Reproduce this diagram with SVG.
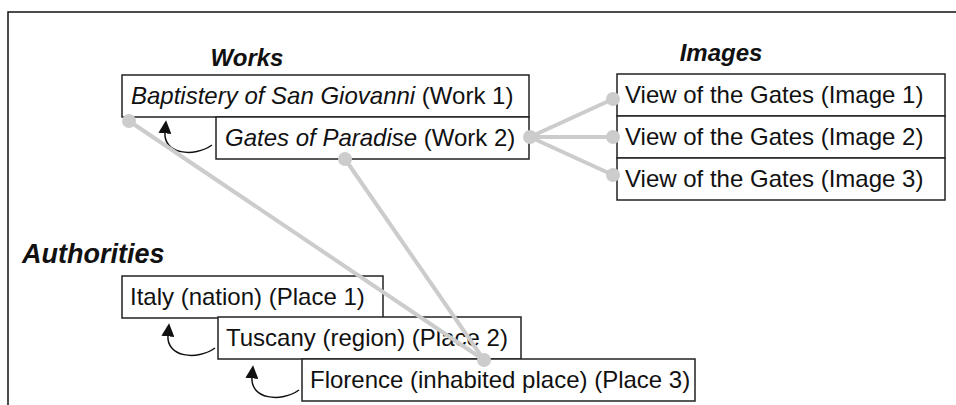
<svg xmlns="http://www.w3.org/2000/svg" width="956" height="405" viewBox="0 0 956 405">
<style>
.box{fill:#fff;stroke:#222;stroke-width:1.5}
.t{font-family:"Liberation Sans",Arial,sans-serif;font-size:24px;fill:#111}
.i{font-style:italic}
.h{font-family:"Liberation Sans",Arial,sans-serif;font-size:24px;font-weight:bold;font-style:italic;fill:#111}
.con{stroke:#ccc;stroke-width:4;stroke-linecap:round;fill:none}
.dot{fill:#ccc}
.arr{fill:none;stroke:#111;stroke-width:1.5}
</style>
<defs>
<marker id="ah" viewBox="0 0 10 10" refX="1" refY="5" markerWidth="13" markerHeight="13" markerUnits="userSpaceOnUse" orient="auto">
<path d="M0,0 L10,5 L0,10 z" fill="#111"/>
</marker>
<path id="hook" d="M212,145 C194,158 163,154 165,132" class="arr" marker-end="url(#ah)"/>
</defs>
<rect width="956" height="405" fill="#fff"/>
<path d="M8,405 L8,12 L956,12" fill="none" stroke="#111" stroke-width="1.5"/>
<text class="h" x="247" y="66" text-anchor="middle">Works</text>
<text class="h" x="721" y="61" text-anchor="middle">Images</text>
<text class="h" x="22" y="263" style="font-size:27px">Authorities</text>
<g id="work1"><rect class="box" x="122" y="75" width="407" height="42"/><text class="t" x="131" y="104"><tspan class="i">Baptistery of San Giovanni</tspan> (Work 1)</text></g>
<g id="work2"><rect class="box" x="216" y="117" width="313" height="42"/><text class="t" x="225" y="146"><tspan class="i">Gates of Paradise</tspan> (Work 2)</text></g>
<g id="image1"><rect class="box" x="617" y="74" width="328" height="42"/><text class="t" x="625" y="103">View of the Gates (Image 1)</text></g>
<g id="image2"><rect class="box" x="617" y="116" width="328" height="42"/><text class="t" x="625" y="145">View of the Gates (Image 2)</text></g>
<g id="image3"><rect class="box" x="617" y="158" width="328" height="42"/><text class="t" x="625" y="187">View of the Gates (Image 3)</text></g>
<g id="place1"><rect class="box" x="122" y="276" width="261" height="42"/><text class="t" x="130" y="305">Italy (nation) (Place 1)</text></g>
<g id="place2"><rect class="box" x="218" y="317" width="303" height="42"/><text class="t" x="226" y="346">Tuscany (region) (Place 2)</text></g>
<g id="place3"><rect class="box" x="302" y="359" width="393" height="42"/><text class="t" x="310" y="388">Florence (inhabited place) (Place 3)</text></g>
<g id="hierarchy">
<use href="#hook"/>
<use href="#hook" transform="translate(3,203)"/>
<use href="#hook" transform="translate(87,245)"/>
</g>
<g id="connectors">
<line class="con" x1="129" y1="121" x2="484" y2="360"/>
<line class="con" x1="345" y1="159" x2="484" y2="360"/>
<line class="con" x1="530" y1="137" x2="613" y2="99"/>
<line class="con" x1="530" y1="137" x2="613" y2="137"/>
<line class="con" x1="530" y1="137" x2="613" y2="175"/>
<circle class="dot" cx="129" cy="121" r="7"/>
<circle class="dot" cx="345" cy="159" r="7"/>
<circle class="dot" cx="484" cy="360" r="7"/>
<circle class="dot" cx="530" cy="137" r="7"/>
<circle class="dot" cx="613" cy="99" r="7"/>
<circle class="dot" cx="613" cy="137" r="7"/>
<circle class="dot" cx="613" cy="175" r="7"/>
</g>
</svg>
